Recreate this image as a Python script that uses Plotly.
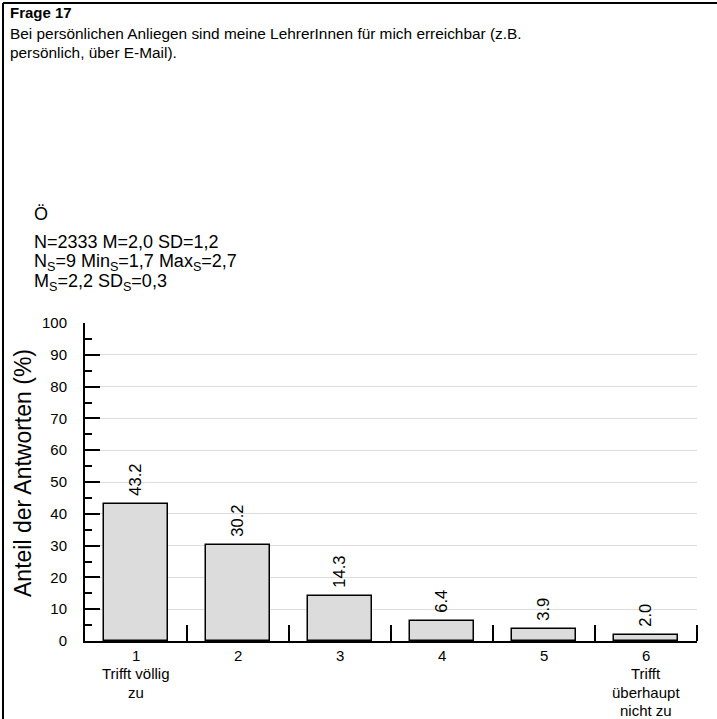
import plotly.graph_objects as go

categories = [1, 2, 3, 4, 5, 6]
tick_labels = [["1", "Trifft völlig", "zu"], ["2"], ["3"], ["4"], ["5"], ["6", "Trifft", "überhaupt", "nicht zu"]]
values = [43.2, 30.2, 14.3, 6.4, 3.9, 2.0]
title_bold = "Frage 17"
title_lines = [
    "Bei persönlichen Anliegen sind meine LehrerInnen für mich erreichbar (z.B.",
    "persönlich, über E-Mail).",
]
group_label = "Ö"
stats_lines = [
    "N=2333 M=2,0 SD=1,2",
    "N<sub>S</sub>=9 Min<sub>S</sub>=1,7 Max<sub>S</sub>=2,7",
    "M<sub>S</sub>=2,2 SD<sub>S</sub>=0,3",
]
y_title = "Anteil der Antworten (%)"

W, H = 717, 719
L, R, T, B = 85, 697, 323, 641
pw, ph = R - L, B - T

def px(x):
    return (x - L) / pw

def py(y):
    return (B - y) / ph

FONT = "Liberation Sans, Arial, sans-serif"

fig = go.Figure(go.Bar(
    x=categories, y=values,
    width=0.63,
    marker=dict(color="#dcdcdc", line=dict(color="black", width=1.5)),
    text=[f" {v:.1f}" for v in values],
    textposition="outside",
    textangle=-90,
    textfont=dict(size=16.5, color="black", family=FONT),
    cliponaxis=False,
))

fig.update_layout(
    width=W, height=H,
    margin=dict(l=L, r=W - R, t=T, b=H - B, autoexpand=False),
    paper_bgcolor="white", plot_bgcolor="white",
    showlegend=False,
    font=dict(family=FONT, color="black"),
    bargap=0,
)

fig.update_xaxes(
    range=[0.5, 6.5],
    tickvals=categories, showticklabels=False,
    ticks="", showgrid=False,
    showline=True, linecolor="black", linewidth=2,
    minor=dict(tickvals=[1.5, 2.5, 3.5, 4.5, 5.5, 6.5], ticks="inside", ticklen=16,
               tickcolor="black", tickwidth=1.5, showgrid=False),
    zeroline=False,
)

fig.update_yaxes(
    range=[0, 100], dtick=10, tick0=0,
    ticks="inside", ticklen=15, tickcolor="black", tickwidth=1.5,
    showgrid=True, gridcolor="#dcdcdc", gridwidth=1,
    showline=True, linecolor="black", linewidth=2,
    tickfont=dict(size=15, color="black"),
    ticklabelstandoff=13,
    minor=dict(dtick=5, ticks="inside", ticklen=7, tickcolor="black", tickwidth=1.5, showgrid=False),
    zeroline=False,
)

ann = []
ann.append(dict(x=px(8), y=py(12), xref="paper", yref="paper", xanchor="left", yanchor="middle",
                text=f"<b>{title_bold}</b>", showarrow=False, font=dict(size=15)))
for i, s in enumerate(title_lines):
    ann.append(dict(x=px(8), y=py(33 + 19 * i), xref="paper", yref="paper", xanchor="left", yanchor="middle",
                    text=s, showarrow=False, font=dict(size=15.4)))
ann.append(dict(x=px(32), y=py(214), xref="paper", yref="paper", xanchor="left", yanchor="middle",
                text=group_label, showarrow=False, font=dict(size=18)))
for i, s in enumerate(stats_lines):
    ann.append(dict(x=px(32), y=py(242 + 20 * i), xref="paper", yref="paper", xanchor="left", yanchor="middle",
                    text=s, showarrow=False, font=dict(size=18)))
ann.append(dict(x=px(23), y=py(473), xref="paper", yref="paper", xanchor="center", yanchor="middle",
                text=y_title, textangle=-90, showarrow=False, font=dict(size=23)))
for c, lines in zip(categories, tick_labels):
    for j, s in enumerate(lines):
        ann.append(dict(x=c, y=py(655 + 18.5 * j), xref="x", yref="paper", xanchor="center", yanchor="middle",
                        text=s, showarrow=False, font=dict(size=15)))
fig.update_layout(annotations=ann)

fig.add_shape(type="line", xref="paper", yref="paper", x0=px(3), x1=px(720), y0=py(3), y1=py(3),
              line=dict(color="black", width=2))
fig.add_shape(type="line", xref="paper", yref="paper", x0=px(3), x1=px(3), y0=py(3), y1=py(725),
              line=dict(color="black", width=2))

fig.write_html("out.html", config={"displayModeBar": False},
               post_script="document.body.style.margin='0';document.body.style.overflow='hidden';")
